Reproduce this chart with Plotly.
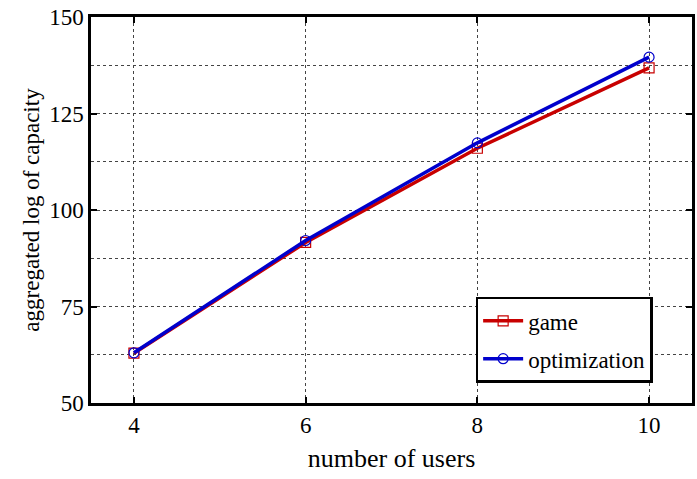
import plotly.graph_objects as go

# number of users on the x axis
users = [4, 6, 8, 10]
# aggregated log of capacity for each scheme
game = [62.9, 91.6, 116.0, 136.8]
optimization = [63.0, 92.1, 117.4, 139.6]

FONT = "Times New Roman, Liberation Serif, serif"

fig = go.Figure()
fig.add_trace(go.Scatter(
    x=users, y=game, name="game", mode="lines+markers", legendgroup="g",
    line=dict(color="#c80000", width=3.5),
    marker=dict(symbol="square-open", size=10, color="#c80000", line=dict(width=1.2)),
))
fig.add_trace(go.Scatter(
    x=users, y=optimization, name="optimization", mode="lines+markers", legendgroup="o",
    line=dict(color="#0000cc", width=3.5),
    marker=dict(symbol="circle-open", size=10, color="#0000cc", line=dict(width=1.2)),
))

axis_common = dict(
    showline=True, linecolor="black", linewidth=2.5, mirror="allticks",
    ticks="inside", ticklen=6, tickwidth=1.5, tickcolor="black",
    showgrid=True, gridcolor="#444444", griddash="dot", gridwidth=1,
    zeroline=False,
    tickfont=dict(family=FONT, size=23, color="black"),
)

fig.update_xaxes(
    range=[3.5, 10.5], tickvals=[4, 6, 8, 10],
    title=dict(text="number of users", font=dict(family=FONT, size=26, color="black"), standoff=12),
    **axis_common,
)
fig.update_yaxes(
    range=[50, 150], tickvals=[50, 75, 100, 125, 150],
    minor=dict(tickvals=[62.5, 87.5, 112.5, 137.5], showgrid=True,
               gridcolor="#444444", griddash="dot", gridwidth=1, ticks=""),
    title=dict(text="aggregated log of capacity", font=dict(family=FONT, size=23, color="black"), standoff=4),
    **axis_common,
)

fig.update_layout(
    width=697, height=479,
    margin=dict(l=91, r=2, t=17, b=76),
    paper_bgcolor="white", plot_bgcolor="white",
    font=dict(family=FONT, color="black"),
    legend=dict(
        x=0.64, y=0.275, xanchor="left", yanchor="top",
        bgcolor="white", bordercolor="black", borderwidth=2.5,
        font=dict(family=FONT, size=23, color="black"),
        traceorder="grouped", tracegroupgap=5, itemwidth=40,
    ),
)

fig.write_html("out.html")
